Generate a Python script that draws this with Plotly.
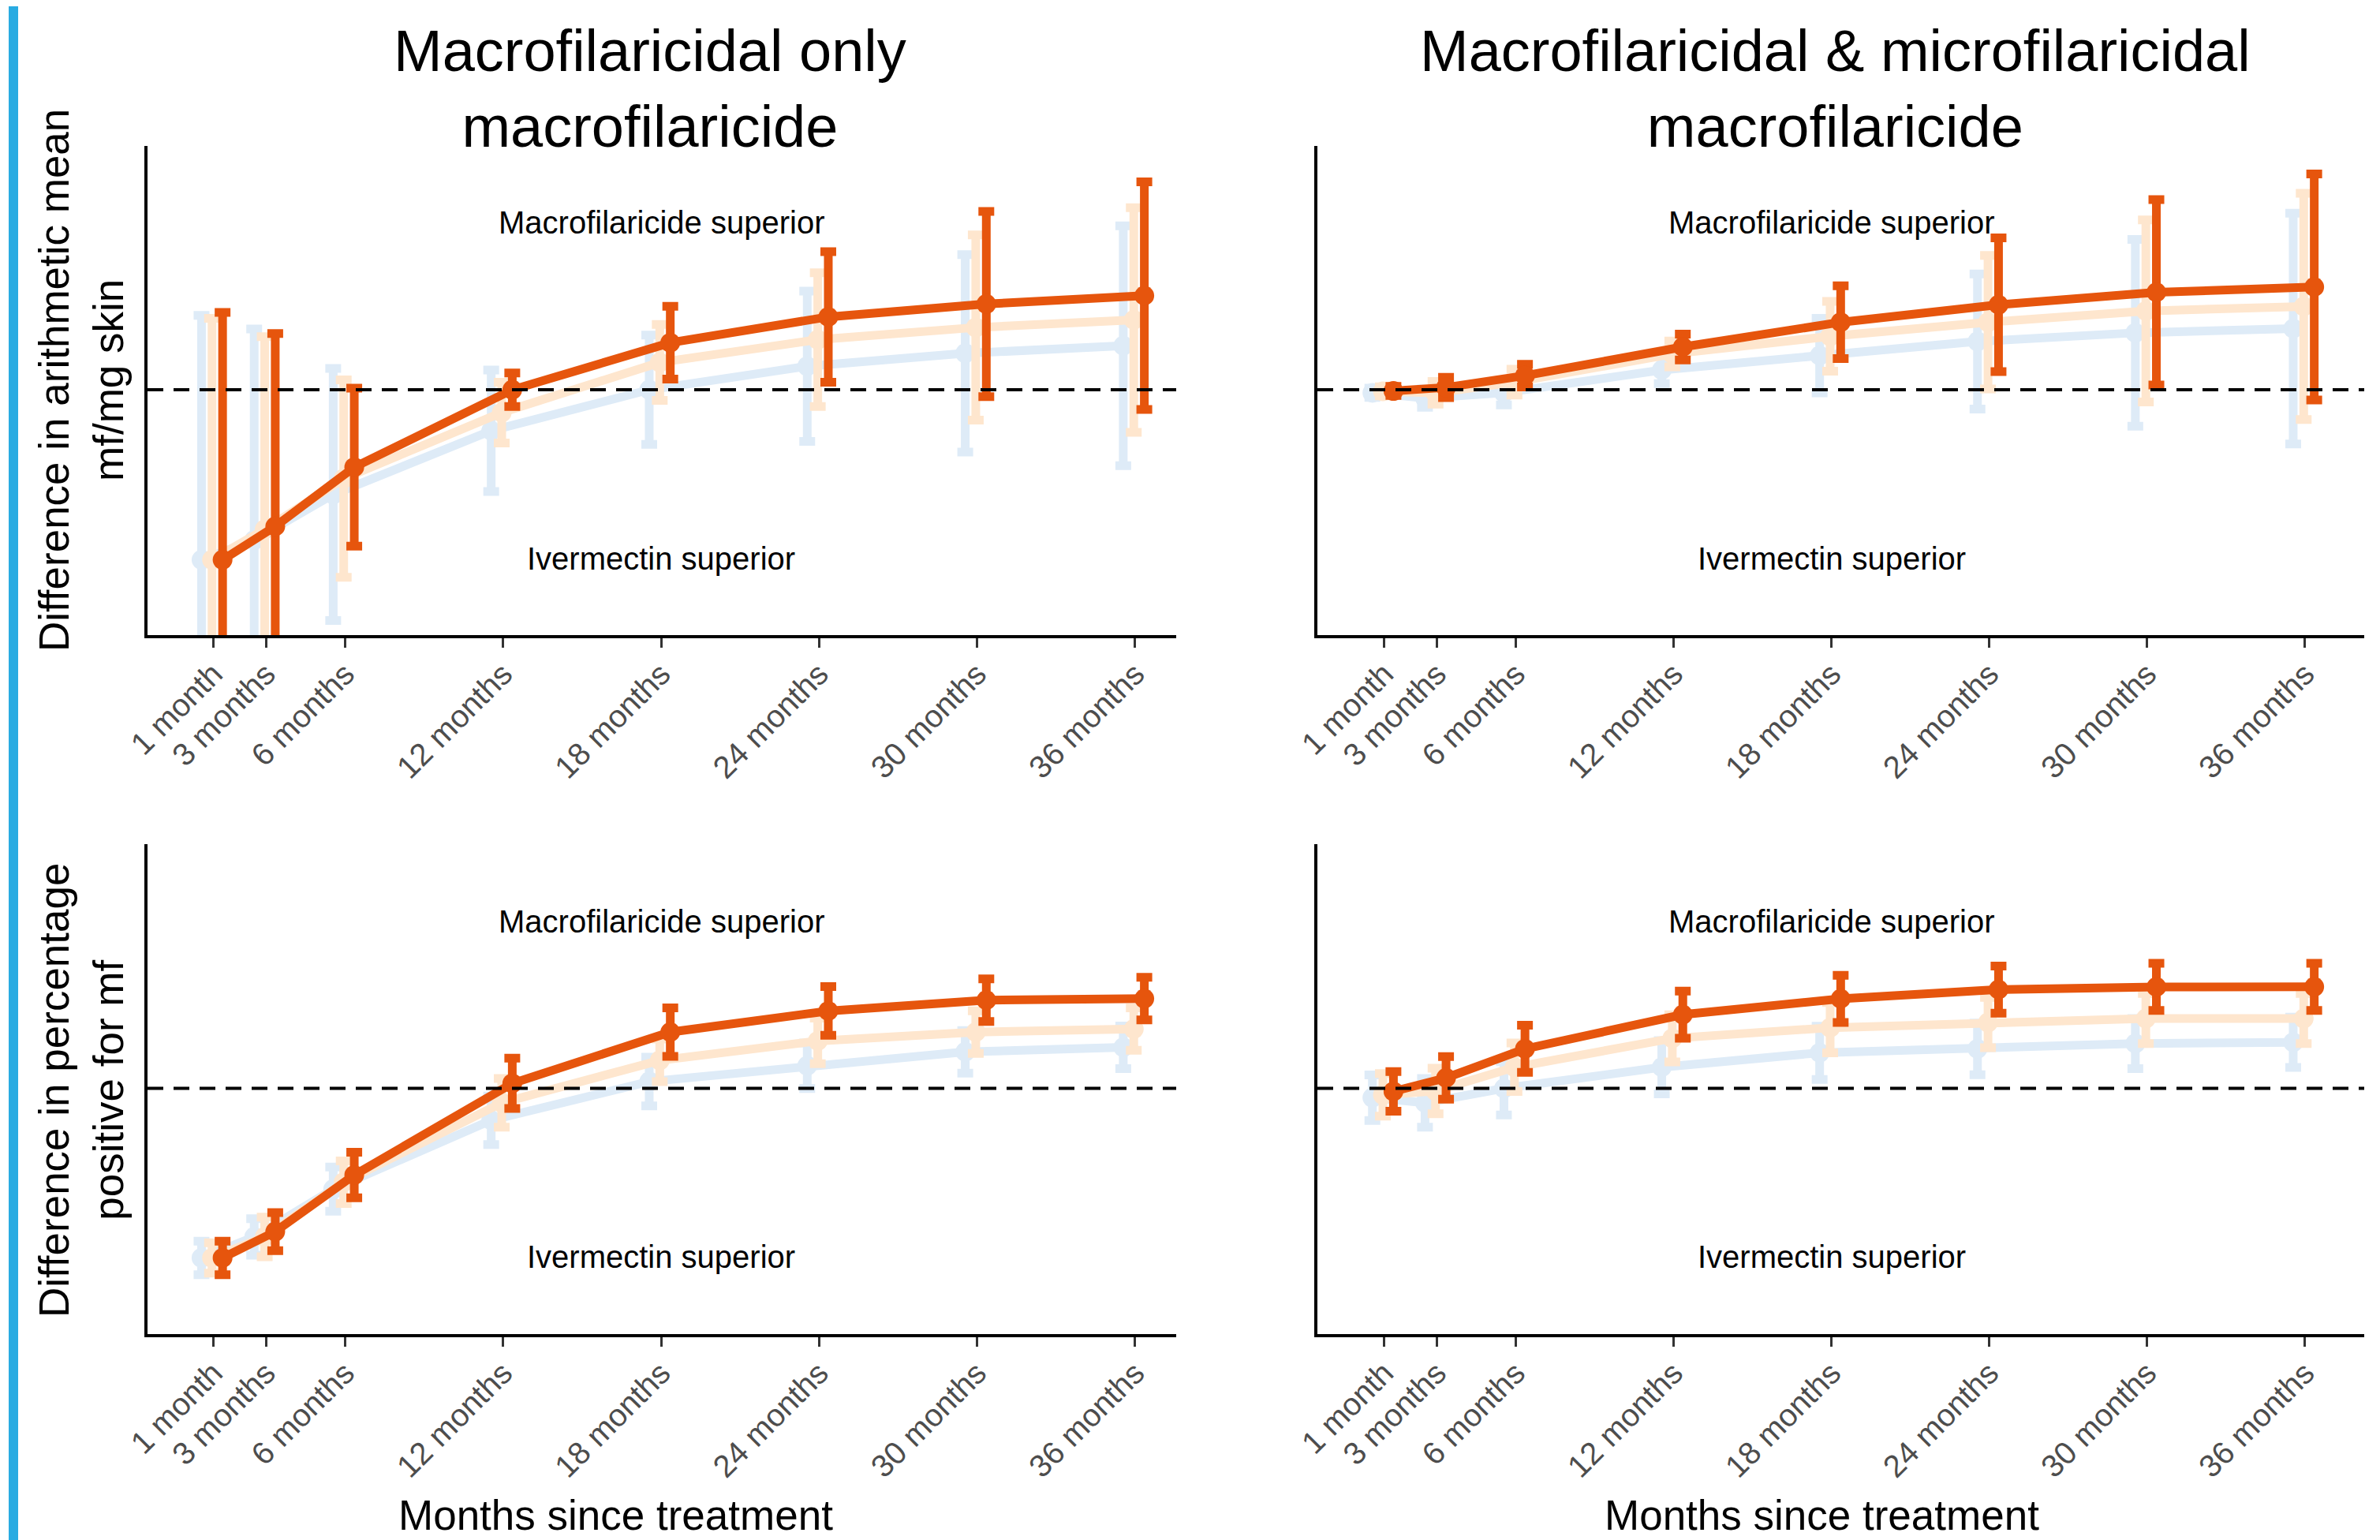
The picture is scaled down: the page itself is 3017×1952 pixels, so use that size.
import plotly.graph_objects as go

# ---------------- data ----------------
months = [1, 3, 6, 12, 18, 24, 30, 36]
tick_labels = ["1 month", "3 months", "6 months", "12 months",
               "18 months", "24 months", "30 months", "36 months"]

series_names = ["Scenario 1", "Scenario 2", "Scenario 3"]

# Top-left: difference in arithmetic mean mf/mg skin, macrofilaricidal only
tl_s1 = [-1.12, -0.99, -0.69, -0.27, 0.00, 0.155, 0.24, 0.29]
tl_s1_err = [1.61, 1.39, 0.83, 0.40, 0.36, 0.495, 0.65, 0.79]
tl_s2 = [-1.12, -0.92, -0.585, -0.15, 0.18, 0.33, 0.41, 0.46]
tl_s2_err = [1.59, 1.27, 0.65, 0.20, 0.25, 0.44, 0.61, 0.74]
tl_s3 = [-1.12, -0.90, -0.51, 0.00, 0.31, 0.48, 0.565, 0.62]
tl_s3_err = [1.63, 1.27, 0.52, 0.11, 0.24, 0.43, 0.61, 0.75]

# Top-right: difference in arithmetic mean, macro & microfilaricidal
tr_s1 = [-0.02, -0.055, -0.02, 0.13, 0.225, 0.318, 0.375, 0.403]
tr_s1_err = [0.03, 0.06, 0.08, 0.09, 0.245, 0.445, 0.615, 0.76]
tr_s2 = [-0.01, -0.02, 0.05, 0.236, 0.352, 0.445, 0.519, 0.549]
tr_s2_err = [0.03, 0.075, 0.085, 0.085, 0.23, 0.44, 0.60, 0.745]
tr_s3 = [-0.008, 0.015, 0.093, 0.282, 0.445, 0.56, 0.642, 0.677]
tr_s3_err = [0.03, 0.067, 0.075, 0.085, 0.24, 0.44, 0.61, 0.745]

# Bottom-left: difference in percentage positive for mf, macrofilaricidal only
bl_s1 = [-1.115, -0.977, -0.663, -0.21, 0.045, 0.149, 0.24, 0.27]
bl_s1_err = [0.11, 0.12, 0.145, 0.16, 0.16, 0.15, 0.14, 0.14]
bl_s2 = [-1.115, -0.977, -0.617, -0.095, 0.184, 0.312, 0.37, 0.39]
bl_s2_err = [0.10, 0.13, 0.14, 0.16, 0.14, 0.15, 0.14, 0.14]
bl_s3 = [-1.115, -0.942, -0.57, 0.033, 0.37, 0.509, 0.58, 0.59]
bl_s3_err = [0.11, 0.125, 0.15, 0.165, 0.16, 0.16, 0.14, 0.14]

# Bottom-right: difference in percentage positive for mf, macro & micro
br_s1 = [-0.061, -0.095, 0.0, 0.139, 0.234, 0.26, 0.295, 0.303]
br_s1_err = [0.15, 0.16, 0.175, 0.175, 0.175, 0.17, 0.165, 0.165]
br_s2 = [-0.043, -0.017, 0.139, 0.329, 0.399, 0.433, 0.459, 0.459]
br_s2_err = [0.14, 0.15, 0.16, 0.155, 0.165, 0.165, 0.165, 0.165]
br_s3 = [-0.02, 0.069, 0.26, 0.485, 0.589, 0.65, 0.667, 0.668]
br_s3_err = [0.13, 0.14, 0.155, 0.155, 0.155, 0.155, 0.155, 0.155]

col_titles = ["Macrofilaricidal only<br>macrofilaricide",
              "Macrofilaricidal & microfilaricidal<br>macrofilaricide"]
row_titles = ["Difference in arithmetic mean<br>mf/mg skin",
              "Difference in percentage<br>positive for mf"]
x_title = "Months since treatment"
upper_label = "Macrofilaricide superior"
lower_label = "Ivermectin superior"

# ---------------- styling ----------------
W, H = 3017, 1952
OFF = 8  # default page body margin
FONT = "Liberation Sans, Arial, Helvetica, sans-serif"
colors = ["#DEEBF7", "#FEE6CE", "#E6550D"]
dodge = [-0.45, -0.05, 0.35]


def px_x(p):
    return (p - OFF) / W


def px_y(p):
    return 1 - (p - OFF) / H


panels = [
    ("x", "y", [(tl_s1, tl_s1_err), (tl_s2, tl_s2_err), (tl_s3, tl_s3_err)]),
    ("x2", "y2", [(tr_s1, tr_s1_err), (tr_s2, tr_s2_err), (tr_s3, tr_s3_err)]),
    ("x3", "y3", [(bl_s1, bl_s1_err), (bl_s2, bl_s2_err), (bl_s3, bl_s3_err)]),
    ("x4", "y4", [(br_s1, br_s1_err), (br_s2, br_s2_err), (br_s3, br_s3_err)]),
]

fig = go.Figure()
for xa, ya, series in panels:
    for i, (vals, errs) in enumerate(series):
        fig.add_trace(go.Scatter(
            x=[m + dodge[i] for m in months], y=vals,
            xaxis=xa, yaxis=ya, mode="lines+markers",
            name=series_names[i], showlegend=False,
            line=dict(color=colors[i], width=11),
            marker=dict(color=colors[i], size=25),
            error_y=dict(type="data", array=errs, visible=True,
                         color=colors[i], thickness=11, width=10),
        ))

xdom_left = [px_x(187), px_x(1491)]
xdom_right = [px_x(1670), px_x(2997)]
ydom_top = [px_y(805), px_y(185)]
ydom_bot = [px_y(1691), px_y(1070)]
xr_left = [-1.5, 37.56]
xr_right = [-1.54, 38.25]
yr = [-1.616, 1.606]


def xaxis(dom, rng, anchor):
    return dict(domain=dom, range=rng, anchor=anchor, showgrid=False,
                zeroline=False, showline=True, linecolor="black", linewidth=4,
                ticks="outside", ticklen=12, tickwidth=3, tickcolor="#333333",
                tickvals=months, ticktext=tick_labels, tickangle=-45,
                ticklabelstandoff=-6,
                tickfont=dict(family=FONT, size=40, color="#4D4D4D"),
                automargin=False, fixedrange=True)


def yaxis(dom, anchor):
    return dict(domain=dom, range=yr, anchor=anchor, showgrid=False,
                zeroline=False, showline=True, linecolor="black", linewidth=4,
                showticklabels=False, ticks="", automargin=False, fixedrange=True)


fig.update_layout(
    width=W, height=H, margin=dict(l=0, r=0, t=0, b=0),
    paper_bgcolor="white", plot_bgcolor="white",
    font=dict(family=FONT, color="black"),
    xaxis=xaxis(xdom_left, xr_left, "y"), yaxis=yaxis(ydom_top, "x"),
    xaxis2=xaxis(xdom_right, xr_right, "y2"), yaxis2=yaxis(ydom_top, "x2"),
    xaxis3=xaxis(xdom_left, xr_left, "y3"), yaxis3=yaxis(ydom_bot, "x3"),
    xaxis4=xaxis(xdom_right, xr_right, "y4"), yaxis4=yaxis(ydom_bot, "x4"),
)

shapes = []
annotations = []
for xa, ya, _ in panels:
    shapes.append(dict(type="line", xref=f"{xa} domain", yref=ya, x0=0, x1=1,
                       y0=0, y1=0, line=dict(color="black", width=4, dash="20px,13px")))
    annotations.append(dict(xref=xa, yref=ya, x=18, y=1.10, text=upper_label,
                            showarrow=False, font=dict(size=40, color="black")))
    annotations.append(dict(xref=xa, yref=ya, x=18, y=-1.11, text=lower_label,
                            showarrow=False, font=dict(size=40, color="black")))

# left decorative bar
shapes.append(dict(type="rect", xref="paper", yref="paper", x0=px_x(11), x1=px_x(23),
                   y0=0, y1=1.01, fillcolor="#29ABE2", line=dict(width=0), layer="above"))

# column titles
for xc, t in zip([824, 2326], col_titles):
    annotations.append(dict(xref="paper", yref="paper", x=px_x(xc), y=px_y(112),
                            text=t, showarrow=False, xanchor="center", yanchor="middle",
                            font=dict(size=74, color="black")))
# row titles
for yc, t in zip([482, 1382], row_titles):
    annotations.append(dict(xref="paper", yref="paper", x=px_x(103), y=px_y(yc),
                            text=t, showarrow=False, textangle=-90,
                            xanchor="center", yanchor="middle",
                            font=dict(size=53, color="black")))
# x titles
for xc in [780, 2309]:
    annotations.append(dict(xref="paper", yref="paper", x=px_x(xc), y=px_y(1920),
                            text=x_title, showarrow=False, xanchor="center",
                            yanchor="middle", font=dict(size=53, color="black")))

fig.update_layout(shapes=shapes, annotations=annotations)
fig.write_html("out.html")
